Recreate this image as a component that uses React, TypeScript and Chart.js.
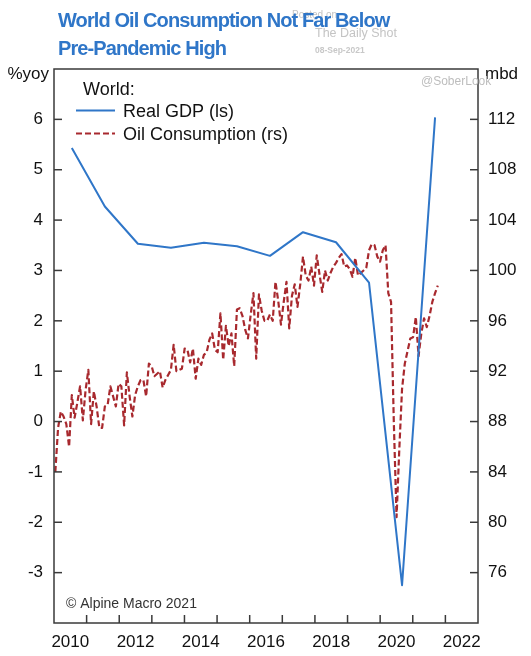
import React, { useEffect, useRef } from 'react';
import { Chart, registerables } from 'chart.js';

Chart.register(...registerables);

// ---------- data ----------
const gdpYears = [2010, 2011, 2012, 2013, 2014, 2015, 2016, 2017, 2018, 2019, 2020, 2021];
const gdpValues = [5.43, 4.27, 3.53, 3.45, 3.55, 3.48, 3.29, 3.76, 3.56, 2.76, -3.25, 6.04];

const oilStartYear = 2010; // monthly, Jan 2010 .. Aug 2021
const oilValues = [
  84.0, 87.5, 88.8, 88.4, 87.8, 86.0, 90.1, 88.3, 89.5, 90.8, 88.1, 90.5,
  92.1, 87.8, 90.4, 89.2, 87.5, 87.5, 89.2, 89.3, 90.8, 90.0, 89.2, 91.0,
  90.8, 87.7, 91.9, 90.0, 88.4, 90.1, 90.8, 91.3, 91.3, 90.0, 92.6, 92.4,
  91.6, 91.8, 92.0, 90.7, 91.3, 91.7, 92.1, 94.1, 92.0, 92.1, 92.2, 93.8,
  93.7, 92.7, 93.8, 91.4, 93.0, 92.5, 93.3, 93.5, 94.5, 95.0, 93.7, 93.5,
  96.6, 92.9, 95.6, 94.0, 95.0, 92.4, 96.9, 97.0, 96.4, 95.3, 94.6, 96.5,
  98.2, 93.0, 98.1, 96.8, 96.0, 96.0, 96.5, 96.0, 99.1, 97.6, 95.7, 97.5,
  99.1, 95.4, 98.0, 98.9, 97.1, 98.9, 101.1, 99.6, 99.2, 100.3, 98.8, 101.2,
  99.7, 98.3, 100.0, 99.2, 99.8, 100.3, 100.6, 101.0, 101.3, 100.3, 100.4, 100.1,
  99.5, 101.0, 99.6, 99.8, 100.0, 100.2, 101.6, 102.1, 102.0, 101.1, 100.7, 101.6,
  102.0, 98.2, 97.5, 88.0, 80.4, 85.8, 90.6, 92.6, 93.6, 94.6, 94.7, 96.3,
  93.2, 95.0, 96.2, 95.5, 96.4, 97.5, 98.2, 98.8,
];

const yearLabels = [2010, 2012, 2014, 2016, 2018, 2020, 2022];
const yearTickMarks = [2011, 2012, 2013, 2014, 2015, 2016, 2017, 2018, 2019, 2020, 2021, 2022];
const leftTicks = [-3, -2, -1, 0, 1, 2, 3, 4, 5, 6];
const rightTicks = [76, 80, 84, 88, 92, 96, 100, 104, 108, 112];

const titleLines = ['World Oil Consumption Not Far Below', 'Pre-Pandemic High'];
const legendHeader = 'World:';
const gdpLabel = 'Real GDP (ls)';
const oilLabel = 'Oil Consumption (rs)';

// ---------- styles ----------
const FONT = "'Liberation Sans', Arial, Helvetica, sans-serif";
const GDP_COLOR = '#2f76c8';
const OIL_COLOR = '#a8292e';
const TEXT = '#111111';
const FRAME = '#3a3a3a';
const OIL_DASH = [6, 3];

const decorPlugin = {
  id: 'decor',
  afterDraw(chart: any) {
    const { ctx, chartArea: a, scales } = chart;
    ctx.save();
    ctx.strokeStyle = FRAME;
    ctx.lineWidth = 1.5;
    const line = (x1: number, y1: number, x2: number, y2: number) => {
      ctx.beginPath();
      ctx.moveTo(x1, y1);
      ctx.lineTo(x2, y2);
      ctx.stroke();
    };
    const xt = scales.xt;
    yearTickMarks.forEach((yr) => {
      const px = xt.getPixelForValue(yr);
      line(px, a.bottom, px, a.bottom - 8);
    });
    leftTicks.forEach((v) => {
      const py = scales.y.getPixelForValue(v);
      line(a.left, py, a.left + 8, py);
    });
    rightTicks.forEach((v) => {
      const py = scales.y2.getPixelForValue(v);
      line(a.right - 8, py, a.right, py);
    });
    ctx.strokeRect(a.left, a.top, a.right - a.left, a.bottom - a.top);

    // legend
    ctx.fillStyle = TEXT;
    ctx.textAlign = 'left';
    ctx.textBaseline = 'alphabetic';
    ctx.font = `18px ${FONT}`;
    ctx.fillText(legendHeader, 83, 95);
    ctx.lineWidth = 2;
    ctx.strokeStyle = GDP_COLOR;
    line(76, 110.5, 115, 110.5);
    ctx.fillText(gdpLabel, 123, 117);
    ctx.strokeStyle = OIL_COLOR;
    ctx.lineWidth = 2.2;
    ctx.setLineDash(OIL_DASH);
    line(76, 133.5, 115, 133.5);
    ctx.setLineDash([]);
    ctx.fillText(oilLabel, 123, 140);

    // unit labels
    ctx.font = `17px ${FONT}`;
    ctx.textAlign = 'right';
    ctx.fillText('%yoy', 49, 79);
    ctx.textAlign = 'left';
    ctx.fillText('mbd', 485, 79);

    // source
    ctx.font = `14px ${FONT}`;
    ctx.fillStyle = '#333333';
    ctx.fillText('© Alpine Macro 2021', 66, 608);
    ctx.restore();
  },
};

export default function App() {
  const ref = useRef<HTMLCanvasElement>(null);

  useEffect(() => {
    if (!ref.current) return;
    const oilData = oilValues.map((v, i) => ({ x: oilStartYear + i / 12, y: v }));
    const gdpData = gdpYears.map((yr, i) => ({ x: yr + 0.5, y: gdpValues[i] }));
    const tickFont = { family: FONT, size: 17 };
    const chart = new Chart(ref.current, {
      type: 'line',
      data: {
        datasets: [
          {
            label: gdpLabel,
            data: gdpData,
            xAxisID: 'x',
            yAxisID: 'y',
            borderColor: GDP_COLOR,
            borderWidth: 2,
            borderJoinStyle: 'round',
            pointRadius: 0,
            tension: 0,
            fill: false,
          },
          {
            label: oilLabel,
            data: oilData,
            xAxisID: 'x',
            yAxisID: 'y2',
            borderColor: OIL_COLOR,
            borderWidth: 2.2,
            borderDash: OIL_DASH,
            borderJoinStyle: 'round',
            pointRadius: 0,
            tension: 0,
            fill: false,
          },
        ],
      },
      options: {
        responsive: false,
        devicePixelRatio: 1,
        animation: false,
        parsing: false as any,
        layout: { padding: { top: 69, left: 0, right: 0, bottom: 0 } },
        plugins: { legend: { display: false }, tooltip: { enabled: false }, title: { display: false } },
        scales: {
          x: { type: 'linear', display: false, min: 2009.96, max: 2022.8 },
          xt: {
            type: 'linear',
            position: 'bottom',
            min: 2010,
            max: 2023,
            grid: { display: false, drawTicks: false },
            border: { display: false },
            afterBuildTicks: (s: any) => {
              s.ticks = yearLabels.map((y) => ({ value: y + 0.5 }));
            },
            afterFit: (s: any) => {
              s.height = 33;
            },
            ticks: {
              autoSkip: false,
              maxRotation: 0,
              padding: 9,
              color: TEXT,
              font: tickFont,
              callback: (v: any) => String(Math.floor(Number(v))),
            },
          },
          y: {
            type: 'linear',
            position: 'left',
            min: -4,
            max: 7,
            grid: { display: false, drawTicks: false },
            border: { display: false },
            afterFit: (s: any) => {
              s.width = 54;
            },
            ticks: {
              stepSize: 1,
              padding: 11,
              color: TEXT,
              font: tickFont,
              callback: (v: any) => (v <= -4 || v >= 7 ? '' : String(v)),
            },
          },
          y2: {
            type: 'linear',
            position: 'right',
            min: 72,
            max: 116,
            grid: { display: false, drawTicks: false },
            border: { display: false },
            afterFit: (s: any) => {
              s.width = 53;
            },
            ticks: {
              stepSize: 4,
              padding: 10,
              color: TEXT,
              font: tickFont,
              callback: (v: any) => (v <= 72 || v >= 116 ? '' : String(v)),
            },
          },
        },
      } as any,
      plugins: [decorPlugin],
    });
    return () => chart.destroy();
  }, []);

  return (
    <div style={{ position: 'fixed', left: 0, top: 0, width: 531, height: 656, background: '#ffffff', overflow: 'hidden' }}>
      <canvas ref={ref} width={531} height={656} style={{ position: 'absolute', left: 0, top: 0, display: 'block' }} />
      <div style={{ position: 'absolute', left: 292, top: 10, font: `10px ${FONT}`, color: '#c4c4c4', lineHeight: '10px', whiteSpace: 'nowrap' }}>Posted on</div>
      <div style={{ position: 'absolute', left: 315, top: 27, font: `12.5px ${FONT}`, color: '#c4c4c4', lineHeight: '13px', whiteSpace: 'nowrap' }}>The Daily Shot</div>
      <div style={{ position: 'absolute', left: 315, top: 46, font: `bold 8.5px ${FONT}`, color: '#c8c8c8', lineHeight: '9px', whiteSpace: 'nowrap' }}>08-Sep-2021</div>
      <div style={{ position: 'absolute', left: 421, top: 75, font: `12px ${FONT}`, color: '#bdbdbd', lineHeight: '12px', whiteSpace: 'nowrap' }}>@SoberLook</div>
      <div style={{ position: 'absolute', left: 58, top: 6, font: `bold 20px ${FONT}`, letterSpacing: '-0.9px', lineHeight: '28px', color: GDP_COLOR, whiteSpace: 'nowrap' }}>
        {titleLines.map((t) => (
          <div key={t}>{t}</div>
        ))}
      </div>
    </div>
  );
}
